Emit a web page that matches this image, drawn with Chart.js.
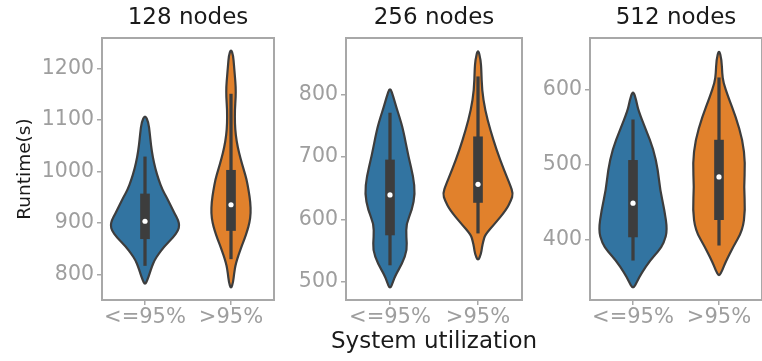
<!DOCTYPE html>
<html>
<head>
<meta charset="utf-8">
<script src="https://cdn.jsdelivr.net/npm/chart.js@4"></script>
<style>
    body { margin: 0; background: #fff; }
    #wrap { position: relative; width: 762px; height: 361px; overflow: hidden; }
    #wrap canvas { position: absolute; top: 0; }
</style>
</head>
<body>
<div id="wrap"></div>
<script>
// Categories and panel titles
const categories = ['<=95%', '>95%'];
const panelTitles = ['128 nodes', '256 nodes', '512 nodes'];
const xTitle = 'System utilization';
const yTitle = 'Runtime(s)';

// Y axis range and tick labels for each panel
const yMin = [750, 471, 320];
const yMax = [1259, 890, 669];
const yTicks = [
    [800, 900, 1000, 1100, 1200],
    [500, 600, 700, 800],
    [400, 500, 600],
];

// Violin outlines: [runtime, half width as a fraction of one category]
const violin128Low = [
    [779, 0], [790, 0.03], [802, 0.055], [815, 0.08], [827, 0.11], [840, 0.16],
    [853, 0.22], [872, 0.33], [885, 0.385], [895, 0.4], [905, 0.385], [918, 0.345],
    [935, 0.295], [950, 0.25], [965, 0.2], [983, 0.16], [1005, 0.12], [1028, 0.09],
    [1050, 0.07], [1075, 0.055], [1095, 0.04], [1110, 0],
];
const violin128High = [
    [771, 0], [785, 0.025], [800, 0.035], [821, 0.055], [853, 0.12], [870, 0.16],
    [885, 0.19], [900, 0.215], [918, 0.23], [940, 0.225], [963, 0.205], [985, 0.18],
    [1002, 0.15], [1025, 0.11], [1047, 0.078], [1070, 0.055], [1093, 0.045], [1120, 0.045],
    [1144, 0.055], [1165, 0.055], [1185, 0.045], [1205, 0.035], [1225, 0.025], [1238, 0],
];
const violin256Low = [
    [488, 0], [500, 0.035], [510, 0.06], [530, 0.14], [551, 0.195], [572, 0.185],
    [593, 0.185], [615, 0.25], [641, 0.285], [668, 0.265], [700, 0.21], [743, 0.15],
    [765, 0.105], [780, 0.07], [795, 0.04], [812, 0],
];
const violin256High = [
    [533, 0], [545, 0.035], [555, 0.045], [565, 0.06], [575, 0.08], [593, 0.19],
    [615, 0.32], [630, 0.375], [641, 0.4], [655, 0.365], [679, 0.295], [711, 0.21],
    [743, 0.14], [775, 0.08], [807, 0.045], [839, 0.038], [855, 0.03], [873, 0],
];
const violin512Low = [
    [334, 0], [345, 0.05], [356, 0.1], [373, 0.2], [385, 0.295], [396, 0.36],
    [413, 0.4], [440, 0.365], [467, 0.315], [493, 0.29], [520, 0.24], [547, 0.15],
    [573, 0.06], [585, 0.04], [600, 0],
];
const violin512High = [
    [351, 0], [360, 0.04], [369, 0.07], [391, 0.165], [413, 0.275], [440, 0.305],
    [471, 0.29], [502, 0.305], [533, 0.275], [564, 0.195], [591, 0.105], [610, 0.05],
    [622, 0.037], [640, 0.03], [654, 0],
];
const violins = [
    [violin128Low, violin128High],
    [violin256Low, violin256High],
    [violin512Low, violin512High],
];

// Inner box plot values per panel: [<=95%, >95%]
const whiskerLow = [[817, 830], [527, 578], [373, 393]];
const quartile1 = [[869, 885], [575, 627], [404, 427]];
const medians = [[903, 935], [639, 656], [449, 484]];
const quartile3 = [[956, 1002], [695, 732], [506, 533]];
const whiskerHigh = [[1028, 1150], [770, 828], [560, 616]];

const violinColors = ['#3274a1', '#e1812c'];
const edgeColor = '#3d3d3d';
const axisGray = '#a8a8a8';
const tickGray = '#9e9e9e';
const textColor = '#1a1a1a';
const font = 'DejaVu Sans';

// Panel placement: canvas left, y axis width, extra room on the right
const panels = [
    { left: 0, yWidth: 102, padRight: 0 },
    { left: 276, yWidth: 70, padRight: 40 },
    { left: 520, yWidth: 70, padRight: 0 },
];
const plotWidth = 176;

// smooth closed outline through midpoints
function tracePath(ctx, pts) {
    const n = pts.length;
    const mid = (a, b) => [(a[0] + b[0]) / 2, (a[1] + b[1]) / 2];
    const start = mid(pts[n - 1], pts[0]);
    ctx.moveTo(start[0], start[1]);
    for (let k = 0; k < n; k++) {
        const m = mid(pts[k], pts[(k + 1) % n]);
        ctx.quadraticCurveTo(pts[k][0], pts[k][1], m[0], m[1]);
    }
    ctx.closePath();
}

function violinPlugin(profiles, showXTitle) {
    return {
        id: 'violin',
        beforeDatasetsDraw(chart) {
            const { ctx, scales: { x, y } } = chart;
            const unit = x.getPixelForValue(1) - x.getPixelForValue(0);
            profiles.forEach((prof, i) => {
                const cx = x.getPixelForValue(i);
                const right = prof.map(([v, w]) => [cx + w * unit, y.getPixelForValue(v)]);
                const left = prof.slice(1, -1).reverse().map(([v, w]) => [cx - w * unit, y.getPixelForValue(v)]);
                ctx.save();
                ctx.beginPath();
                tracePath(ctx, right.concat(left));
                ctx.fillStyle = violinColors[i];
                ctx.fill();
                ctx.lineWidth = 2.2;
                ctx.strokeStyle = edgeColor;
                ctx.stroke();
                ctx.restore();
            });
        },
        afterDraw(chart) {
            const { ctx, chartArea: a } = chart;
            ctx.save();
            ctx.strokeStyle = axisGray;
            ctx.lineWidth = 2;
            ctx.strokeRect(a.left, a.top, a.right - a.left, a.bottom - a.top);
            // shared x label, wider than one panel so drawn here without squeezing
            if (showXTitle) {
                ctx.fillStyle = textColor;
                ctx.font = '23px "DejaVu Sans"';
                ctx.textAlign = 'center';
                ctx.textBaseline = 'alphabetic';
                ctx.fillText(xTitle, (a.left + a.right) / 2, 348);
            }
            ctx.restore();
        },
    };
}

function makeChart(i) {
    const p = panels[i];
    const canvas = document.createElement('canvas');
    canvas.width = p.yWidth + plotWidth + p.padRight;
    canvas.height = 361;
    canvas.style.left = p.left + 'px';
    document.getElementById('wrap').appendChild(canvas);

    const pair = (a, b) => [[a[0], b[0]], [a[1], b[1]]];

    new Chart(canvas, {
        type: 'bar',
        data: {
            labels: categories,
            datasets: [
                {
                    type: 'line',
                    data: medians[i],
                    showLine: false,
                    pointRadius: 2.6,
                    pointBorderWidth: 0,
                    pointBackgroundColor: '#ffffff',
                    order: 0,
                },
                {
                    data: pair(quartile1[i], quartile3[i]),
                    backgroundColor: edgeColor,
                    barThickness: 9,
                    grouped: false,
                    order: 1,
                },
                {
                    data: pair(whiskerLow[i], whiskerHigh[i]),
                    backgroundColor: edgeColor,
                    barThickness: 2.6,
                    grouped: false,
                    order: 2,
                },
            ],
        },
        options: {
            responsive: false,
            animation: false,
            devicePixelRatio: 1,
            layout: { padding: { left: 0, right: p.padRight, top: 0, bottom: 0 } },
            plugins: {
                legend: { display: false },
                tooltip: { enabled: false },
                title: { display: false },
            },
            scales: {
                // top axis only carries the panel title, centred on the plot
                top: {
                    type: 'category',
                    position: 'top',
                    grid: { display: false },
                    border: { display: false },
                    ticks: { display: false },
                    title: {
                        display: true,
                        text: panelTitles[i],
                        color: textColor,
                        font: { family: font, size: 23, lineHeight: 1.2 },
                        padding: { top: 4, bottom: 0 },
                    },
                    afterFit: (s) => { s.height = 38; },
                },
                x: {
                    type: 'category',
                    offset: true,
                    grid: { offset: false, drawOnChartArea: false, tickLength: 5, color: axisGray, lineWidth: 1.5 },
                    border: { display: false },
                    ticks: {
                        color: tickGray,
                        padding: 0,
                        maxRotation: 0,
                        minRotation: 0,
                        autoSkip: false,
                        font: { family: font, size: 21 },
                    },
                    afterFit: (s) => { s.height = 61; },
                },
                y: {
                    min: yMin[i],
                    max: yMax[i],
                    grid: { drawOnChartArea: false, tickLength: 5, color: axisGray, lineWidth: 1.5 },
                    border: { display: false },
                    ticks: {
                        color: tickGray,
                        padding: 3,
                        font: { family: font, size: 20.5 },
                        callback: (v) => String(v),
                    },
                    afterBuildTicks: (s) => { s.ticks = yTicks[i].map((v) => ({ value: v })); },
                    title: {
                        display: i === 0,
                        text: yTitle,
                        color: textColor,
                        font: { family: font, size: 18.5 },
                        padding: { top: 14, bottom: 0 },
                    },
                    afterFit: (s) => { s.width = p.yWidth; },
                },
            },
        },
        plugins: [violinPlugin(violins[i], i === 1)],
    });
}

[0, 1, 2].forEach(makeChart);
</script>
</body>
</html>
